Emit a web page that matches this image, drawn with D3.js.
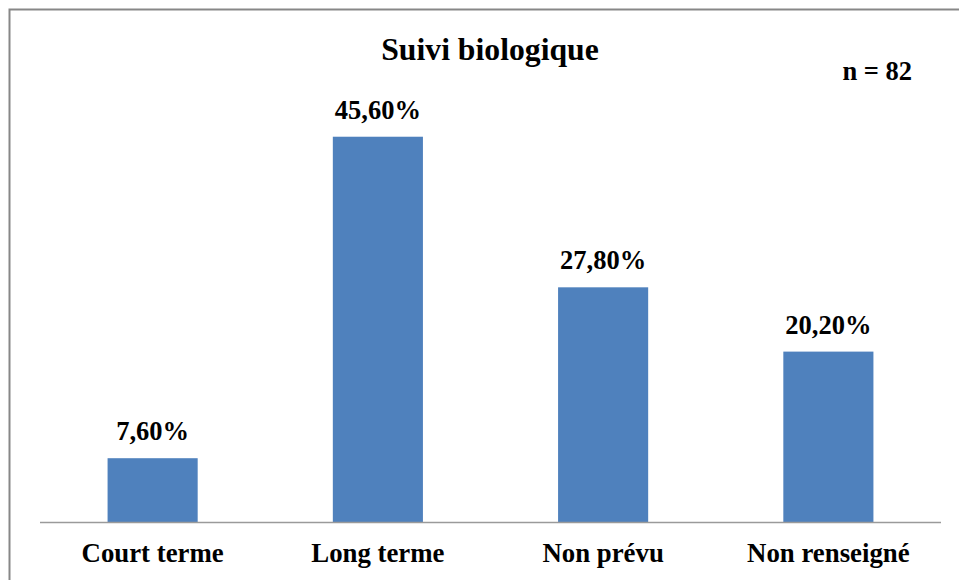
<!DOCTYPE html>
<html>
<head>
<meta charset="utf-8">
<script src="https://cdn.jsdelivr.net/npm/d3@7"></script>
<style>
  body { margin: 0; background: #fff; }
  svg { display: block; }
  text { font-family: "Liberation Serif", "Times New Roman", serif; font-weight: bold; fill: #000; }
</style>
</head>
<body>
<div id="chart"></div>
<script>
var categories = ['Court terme', 'Long terme', 'Non prévu', 'Non renseigné'];
var values = [7.6, 45.6, 27.8, 20.2];
var valueLabels = ['7,60%', '45,60%', '27,80%', '20,20%'];
var title = 'Suivi biologique';
var note = 'n = 82';

var width = 959,
    height = 580;

var svg = d3.select('#chart').append('svg')
    .attr('width', width)
    .attr('height', height);

// outer frame, cut off at right and bottom like the original
svg.append('rect')
    .attr('x', 9.5).attr('y', 9.5)
    .attr('width', width + 20).attr('height', height + 20)
    .attr('fill', 'none')
    .attr('stroke', '#878787')
    .attr('stroke-width', 2);

var x = d3.scaleBand()
    .domain(categories)
    .range([40, 941])
    .paddingInner(0.6)
    .paddingOuter(0.3);

var y = d3.scaleLinear()
    .domain([0, 50])
    .range([522.5, 99.5]);

svg.selectAll('.bar')
    .data(values)
  .enter().append('rect')
    .attr('class', 'bar')
    .attr('x', function(d, i) { return x(categories[i]); })
    .attr('y', function(d) { return y(d); })
    .attr('width', x.bandwidth())
    .attr('height', function(d) { return y(0) - y(d); })
    .attr('fill', '#4F81BD');

svg.append('line')
    .attr('x1', 40).attr('x2', 941)
    .attr('y1', y(0)).attr('y2', y(0))
    .attr('stroke', '#9a9a9a')
    .attr('stroke-width', 1.5);

svg.selectAll('.value')
    .data(values)
  .enter().append('text')
    .attr('class', 'value')
    .attr('x', function(d, i) { return x(categories[i]) + x.bandwidth() / 2; })
    .attr('y', function(d) { return y(d) - 18; })
    .attr('text-anchor', 'middle')
    .style('font-size', '26.5px')
    .text(function(d, i) { return valueLabels[i]; });

svg.selectAll('.cat')
    .data(categories)
  .enter().append('text')
    .attr('class', 'cat')
    .attr('x', function(d) { return x(d) + x.bandwidth() / 2; })
    .attr('y', 562)
    .attr('text-anchor', 'middle')
    .style('font-size', '26.8px')
    .text(function(d) { return d; });

svg.append('text')
    .attr('x', 490)
    .attr('y', 60)
    .attr('text-anchor', 'middle')
    .style('font-size', '31.7px')
    .text(title);

svg.append('text')
    .attr('x', 912)
    .attr('y', 80)
    .attr('text-anchor', 'end')
    .style('font-size', '26.5px')
    .text(note);
</script>
</body>
</html>
